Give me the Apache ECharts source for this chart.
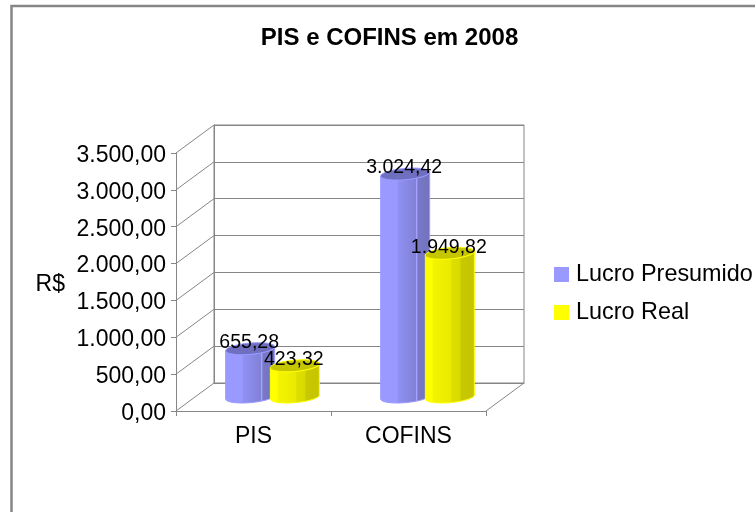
<!DOCTYPE html>
<html><head><meta charset="utf-8">
<style>html,body{margin:0;padding:0;background:#fff}#c{width:755px;height:512px}</style>
<script src="https://cdn.jsdelivr.net/npm/echarts@6/dist/echarts.min.js"></script>
</head><body><div id="c"></div>
<script>
const title = 'PIS e COFINS em 2008';
const categories = ['PIS', 'COFINS'];
const lucroPresumido = [655.28, 3024.42];
const lucroReal = [423.32, 1949.82];
const yTicks = [0, 500, 1000, 1500, 2000, 2500, 3000, 3500];
const yAxisName = 'R$';

const FONT = '"Liberation Sans", Arial, sans-serif';
const GREY = '#868686';
const DX = 38, DY = -28;
const front = {left: 176, top: 153, width: 310, height: 258};
const fmt = v => {
  const [i, d] = v.toFixed(2).split('.');
  return i.replace(/\B(?=(\d{3})+$)/g, '.') + ',' + d;
};
const nudged = {v: {fontFamily: FONT, fontSize: 23, color: '#000', padding: [5, 0, 0, 0]}};
const looks = [
  {color: '#9999FF', cap: '#6F6FC0', stops: [[0,'#9999FF'],[.34,'#9999FF'],[.36,'#9090F2'],[.72,'#8181D8'],[.725,'#A3A3FF'],[.74,'#A3A3FF'],[.75,'#7878C8'],[1,'#7272BC']]},
  {color: '#FFFF00', cap: '#C6C600', stops: [[0,'#FFFF00'],[.15,'#FFFF00'],[.16,'#F4F400'],[.52,'#EAEA00'],[.54,'#DEDE00'],[.7,'#DADA00'],[.72,'#C9C900'],[1,'#C4C400']]}
];

function cylinder(seriesIdx) {
  return function (params, api) {
    const cat = api.value(0), val = api.value(1);
    const bw = api.size([1, 0])[0];
    const base = api.coord([cat, 0]), topP = api.coord([cat, val]);
    const look = looks[seriesIdx];
    const cx = base[0] + DX * 0.5 + (seriesIdx === 0 ? -1 : 1) * bw * 0.144;
    const yb = base[1] + DY * 0.5, yt = topP[1] + DY * 0.5;
    const hw = bw * 0.158, c = 6, b = c * DX / -DY;
    const a = Math.sqrt(hw * hw - b * b);
    const t0 = Math.atan2(b, a), N = 28;
    const pt = (t, y) => [cx + a * Math.cos(t) + b * Math.sin(t), y - c * Math.sin(t)];
    const lower = [], full = [];
    for (let i = 0; i <= N; i++) lower.push(t0 - Math.PI * i / N);
    for (let i = 0; i < 2 * N; i++) full.push(pt(t0 + Math.PI * i / N, yt));
    const body = lower.slice().reverse().map(t => pt(t, yb)).concat(lower.map(t => pt(t, yt)));
    return {
      type: 'group',
      children: [
        {type: 'polygon', z2: 1, shape: {points: body},
          style: {fill: {type: 'linear', x: 0, y: 0, x2: 1, y2: 0,
            colorStops: look.stops.map(s => ({offset: s[0], color: s[1]}))},
            stroke: look.color, lineWidth: 1}},
        {type: 'polygon', z2: 2, shape: {points: full},
          style: {fill: look.cap, stroke: look.color, lineWidth: 1}},
        {type: 'text', z2: 100, style: {x: cx - 1, y: yt - 6, text: fmt(val),
          font: '19.5px ' + FONT, fill: '#000', align: 'center', verticalAlign: 'middle',
          textAlign: 'center', textVerticalAlign: 'middle'}}
      ]
    };
  };
}

const chart = echarts.init(document.getElementById('c'), null, {renderer: 'canvas'});
chart.setOption({
  animation: false,
  backgroundColor: '#fff',
  title: {text: title, left: 384.5, top: 21, textAlign: 'center',
    textStyle: {fontFamily: FONT, fontWeight: 'bold', fontSize: 24, color: '#000'}},
  legend: {
    left: 549, top: 258, orient: 'vertical', itemWidth: 15, itemHeight: 15, itemGap: 15,
    icon: 'rect', data: ['Lucro Presumido', 'Lucro Real'],
    textStyle: {fontFamily: FONT, fontSize: 23.4, color: '#000', padding: [2, 0, 0, 2]}
  },
  grid: [
    Object.assign({outerBoundsMode: 'none'}, front),
    {outerBoundsMode: 'none', left: front.left + DX, top: front.top + DY, width: front.width, height: front.height,
      show: true, borderColor: GREY, borderWidth: 1, backgroundColor: 'transparent'}
  ],
  xAxis: [
    {type: 'category', gridIndex: 0, data: categories,
      axisLine: {lineStyle: {color: GREY}},
      axisTick: {show: true, length: 5, lineStyle: {color: GREY}},
      axisLabel: {fontFamily: FONT, fontSize: 23, color: '#000', margin: 14}},
    {type: 'category', gridIndex: 1, data: categories,
      axisLine: {lineStyle: {color: GREY}}, axisTick: {show: false}, axisLabel: {show: false}}
  ],
  yAxis: [
    {type: 'value', gridIndex: 0, min: 0, max: 3500, interval: 500,
      name: '{v|' + yAxisName + '}', nameLocation: 'middle', nameRotate: 0, nameGap: 111,
      nameTextStyle: {fontFamily: FONT, fontSize: 23, color: '#000', rich: nudged},
      axisLine: {show: true, lineStyle: {color: GREY}},
      axisTick: {show: true, length: 5, lineStyle: {color: GREY}},
      splitLine: {show: false},
      axisLabel: {fontFamily: FONT, fontSize: 23, color: '#000', margin: 10, rich: nudged,
        formatter: v => '{v|' + fmt(v) + '}'}},
    {type: 'value', gridIndex: 1, min: 0, max: 3500, interval: 500,
      axisLine: {show: true, lineStyle: {color: GREY}}, axisTick: {show: false}, axisLabel: {show: false},
      splitLine: {show: true, lineStyle: {color: GREY, width: 1}}}
  ],
  series: [
    {type: 'custom', name: 'depth', xAxisIndex: 0, yAxisIndex: 0, silent: true, z: 1,
      data: yTicks.map(v => [0, v]).concat([[1, 0]]),
      renderItem(params, api) {
        const bw = api.size([1, 0])[0];
        const p = api.coord([api.value(0), api.value(1)]);
        const x = p[0] + (api.value(0) === 1 ? bw / 2 : -bw / 2);
        return {type: 'line', shape: {x1: x, y1: p[1], x2: x + DX, y2: p[1] + DY},
          style: {stroke: GREY, lineWidth: 1}};
      }},
    {type: 'custom', name: 'Lucro Presumido', xAxisIndex: 0, yAxisIndex: 0, z: 3,
      itemStyle: {color: '#9999FF'}, encode: {x: 0, y: 1},
      data: lucroPresumido.map((v, i) => [i, v]), renderItem: cylinder(0)},
    {type: 'custom', name: 'Lucro Real', xAxisIndex: 0, yAxisIndex: 0, z: 4,
      itemStyle: {color: '#FFFF00'}, encode: {x: 0, y: 1},
      data: lucroReal.map((v, i) => [i, v]), renderItem: cylinder(1)}
  ],
  graphic: [
    {type: 'polyline', silent: true, shape: {points: [[11.5, 512], [11.5, 6], [755, 6]]},
      style: {stroke: '#868686', lineWidth: 2.5, fill: null}}
  ]
});
</script></body></html>
